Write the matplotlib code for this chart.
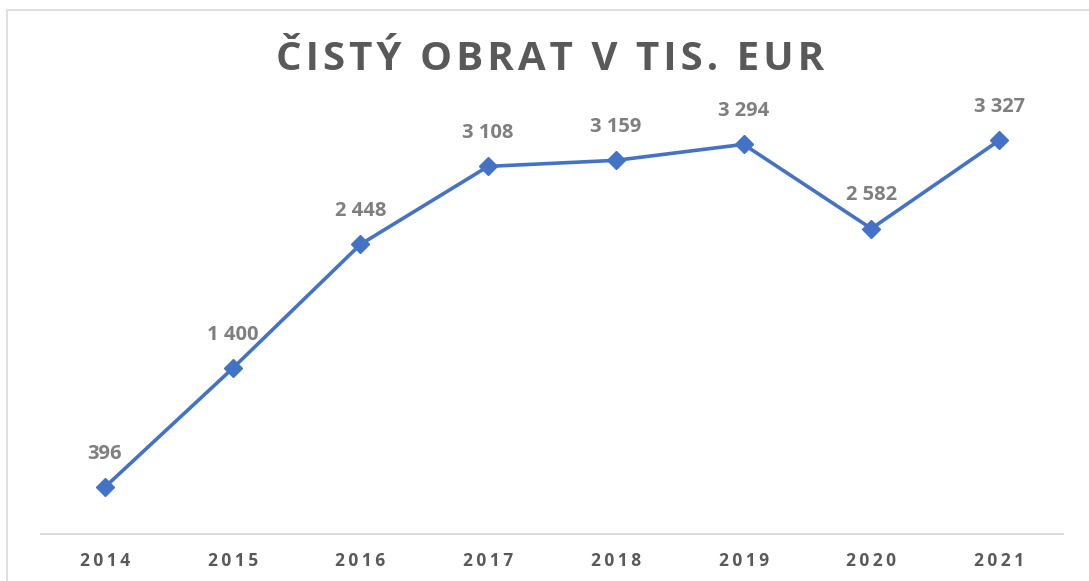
import matplotlib.pyplot as plt
from matplotlib.patches import Rectangle

years = ['2014', '2015', '2016', '2017', '2018', '2019', '2020', '2021']
obrat = [396, 1400, 2448, 3108, 3159, 3294, 2582, 3327]
labels = ['396', '1 400', '2 448', '3 108', '3 159', '3 294', '2 582', '3 327']

plt.rcParams['font.family'] = ['Open Sans', 'DejaVu Sans']

def spaced(s, sep='\u200a'):
    return sep.join(s)

fig = plt.figure(figsize=(10.89, 5.81), dpi=100)
ax = fig.add_axes([41/1089, 47/581, 1022/1089, 414/581])

x = list(range(len(years)))
ax.plot(x, obrat, color='#4472C4', linewidth=2.6, marker='D', markersize=9,
        markeredgecolor='#4472C4', zorder=3)

for i, v in enumerate(obrat):
    ax.annotate(labels[i], (i, v), xytext=(0, 24), textcoords='offset points',
                ha='center', va='center', fontsize=14.5, fontweight='bold', color='#7f7f7f')

ax.set_xlim(-0.5, len(years) - 0.5)
ax.set_ylim(0, 3500)
ax.set_xticks(x)
ax.set_xticklabels([spaced(y, '\u2009') for y in years], fontsize=12.5, fontweight='bold', color='#595959')
ax.tick_params(axis='x', length=0, pad=13)
ax.set_yticks([])
for s in ['top', 'right', 'left']:
    ax.spines[s].set_visible(False)
ax.spines['bottom'].set_color('#d9d9d9')
ax.spines['bottom'].set_linewidth(1.3)

fig.text(550/1089, 1 - 60/581, spaced('ČISTÝ OBRAT V TIS. EUR', '\u200a'), ha='center', va='center',
         fontsize=29, fontweight='bold', color='#595959')

# outer chart border (runs off the right and bottom edge)
fig.patches.append(Rectangle((7/1089, -0.05), 1.1, 1 - 10/581 + 0.05, transform=fig.transFigure,
                             fill=False, edgecolor='#d9d9d9', linewidth=1.2))

fig.savefig('out.png', dpi=100)
